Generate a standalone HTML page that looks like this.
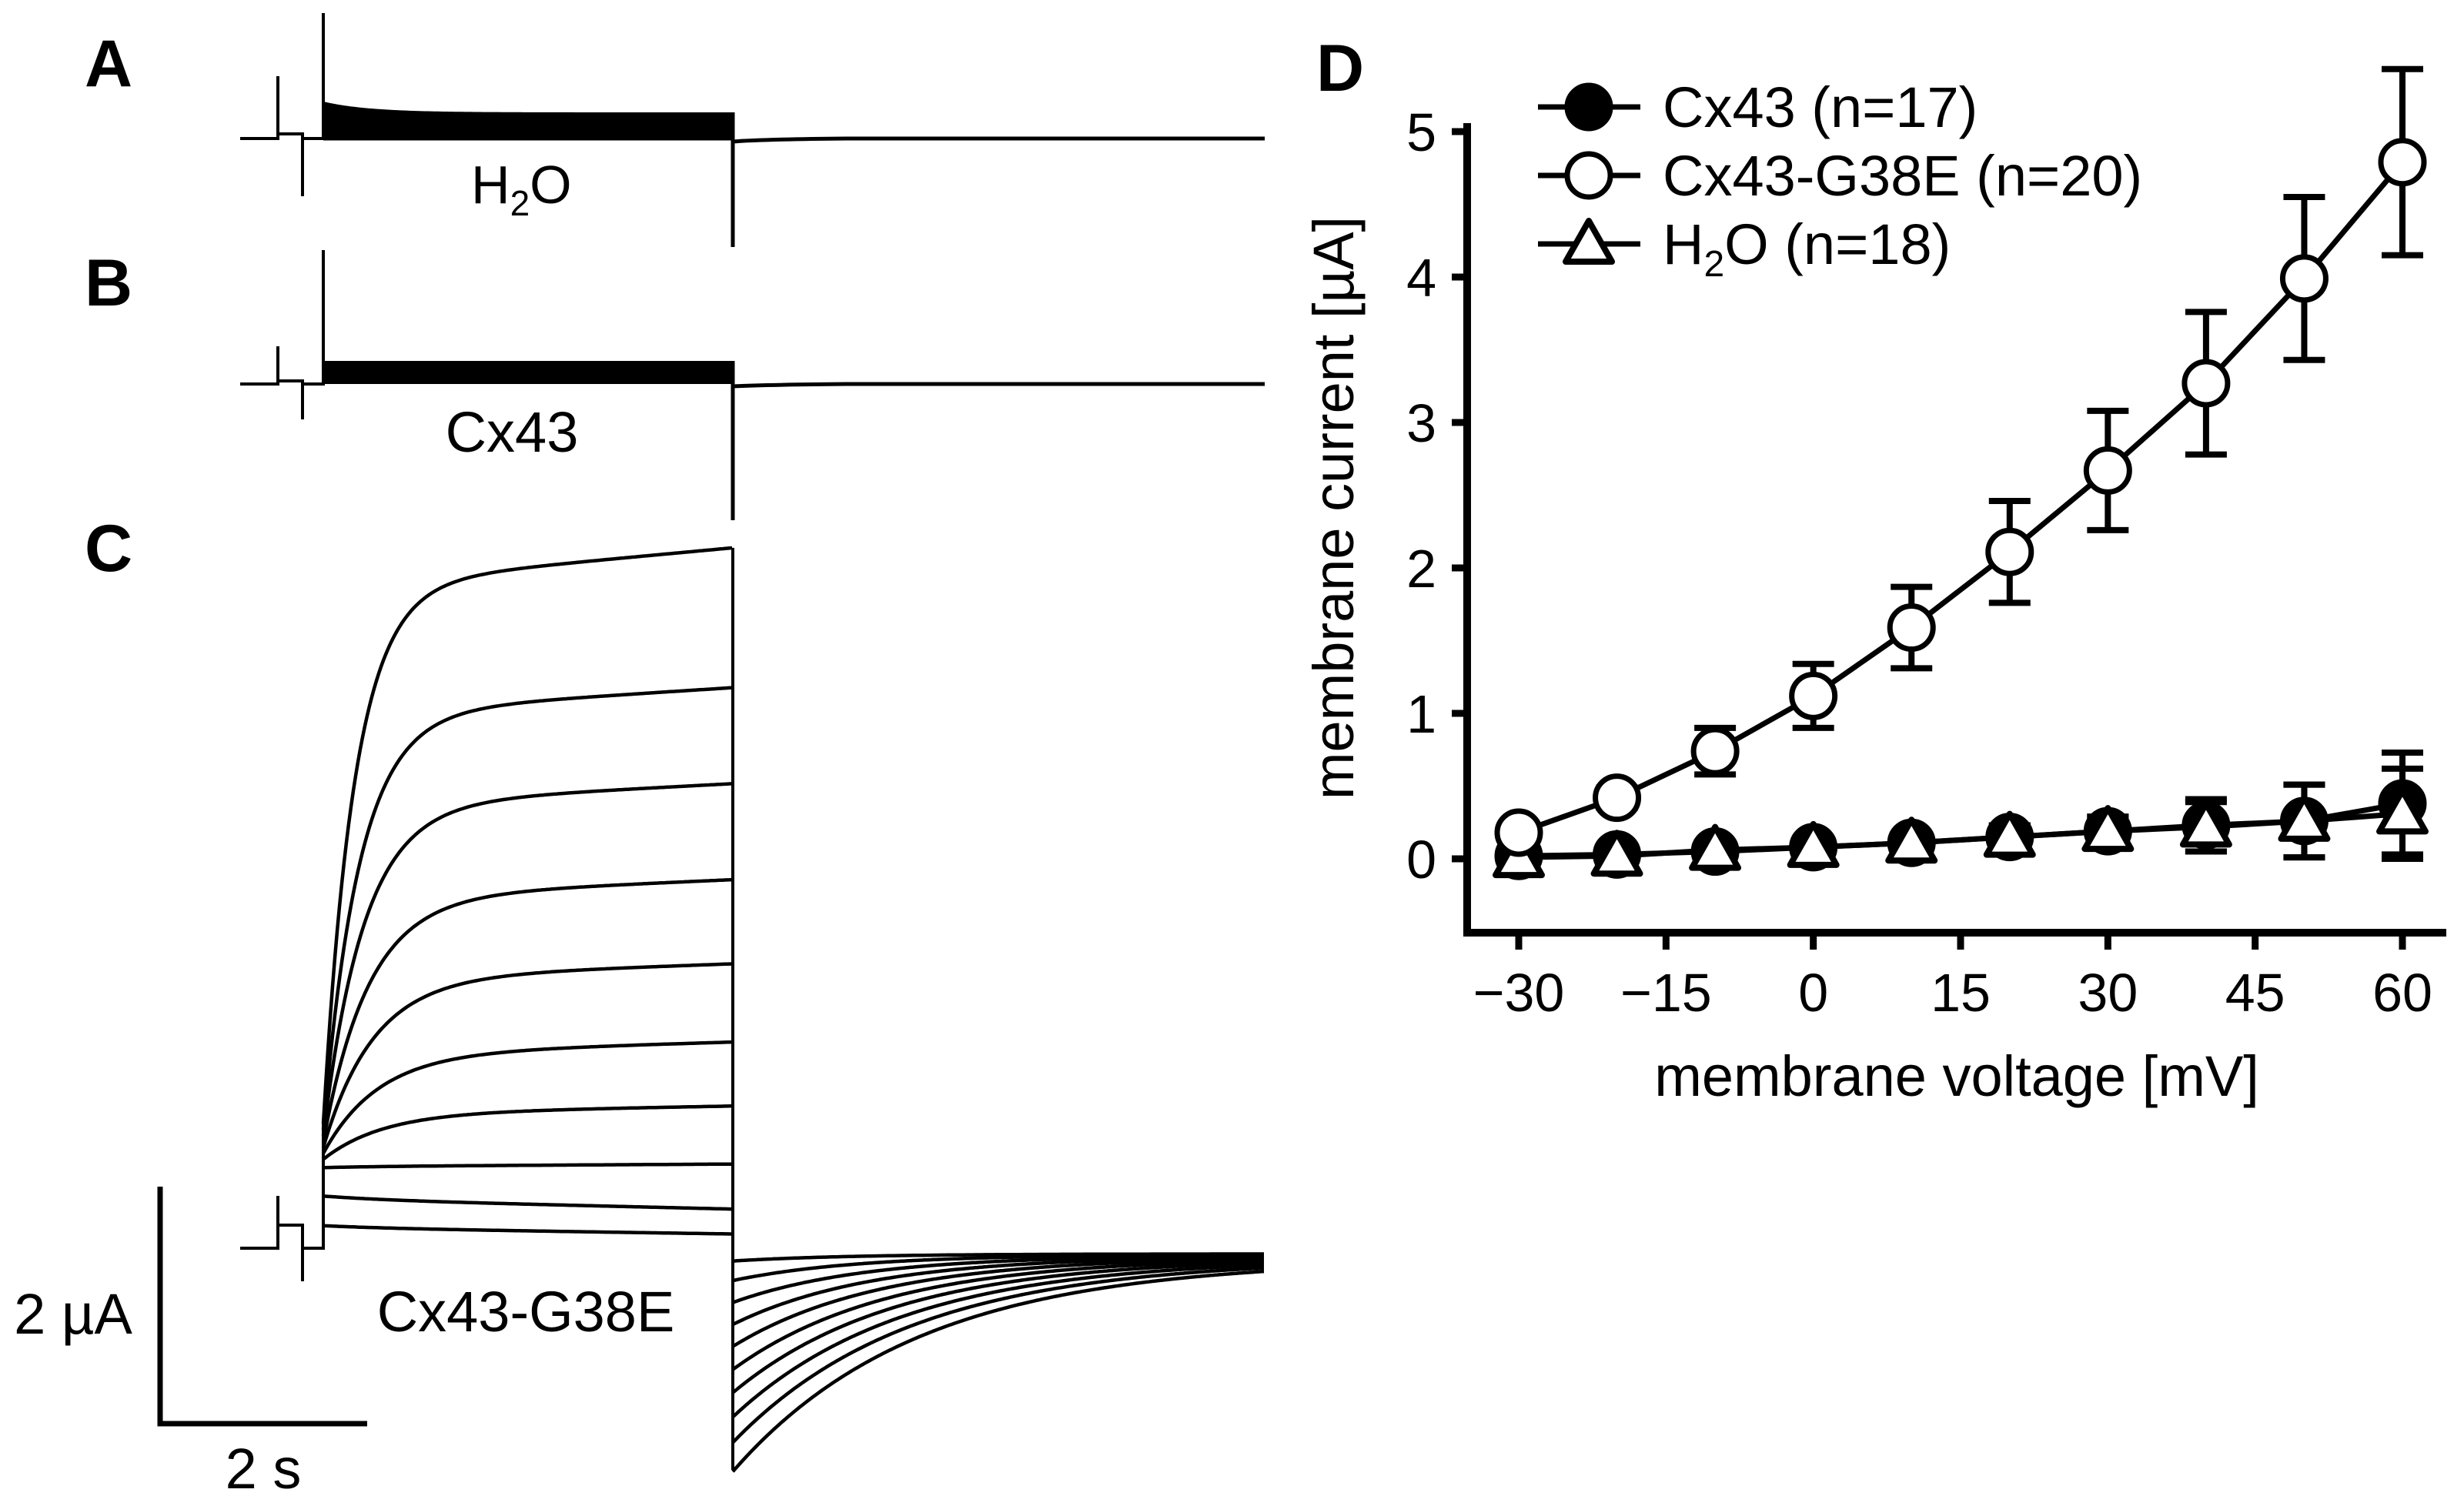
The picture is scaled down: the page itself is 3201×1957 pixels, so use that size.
<!DOCTYPE html>
<html><head><meta charset="utf-8"><style>
html,body{margin:0;padding:0;background:#fff;}
svg{display:block;font-family:"Liberation Sans",sans-serif;}
</style></head><body>
<svg id="fig" width="3201" height="1957" viewBox="0 0 3201 1957" xmlns="http://www.w3.org/2000/svg">
<rect width="3201" height="1957" fill="#fff"/>
<g id="left"></g>
<g id="panelD"></g>
</svg>
<script>
// ---------- Panel D data ----------
const voltages = [-30,-20,-10,0,10,20,30,40,50,60];
const g38eMean = [0.18,0.42,0.74,1.12,1.59,2.11,2.67,3.27,3.99,4.79];
const g38eErr  = [0.04,0.07,0.16,0.22,0.28,0.35,0.41,0.49,0.56,0.64];
const cx43Mean = [0.02,0.03,0.05,0.08,0.11,0.15,0.19,0.23,0.26,0.38];
const cx43Err  = [0.02,0.03,0.04,0.05,0.06,0.08,0.10,0.18,0.25,0.35];
const h2oMean  = [0.01,0.02,0.06,0.08,0.11,0.15,0.19,0.22,0.26,0.31];
const h2oErr   = [0.02,0.03,0.04,0.05,0.06,0.08,0.10,0.17,0.25,0.31];
const xTicks = [-30,-15,0,15,30,45,60];
const xTickLabels = ["\u221230","\u221215","0","15","30","45","60"];
const yTicks = [0,1,2,3,4,5];
// ---------- Panel C data (µA) ----------
const stepEnd   = [0.12,0.33,0.71,1.20,1.74,2.40,3.11,3.92,4.73,5.91];
const stepStart = [0.19,0.44,0.68,0.75,0.80,0.85,0.90,0.95,1.00,1.05];
const stepDrift = [-0.05,-0.08,0.02,0.06,0.10,0.12,0.15,0.18,0.22,0.32];
const tailPeak  = [0.06,0.22,0.40,0.58,0.76,0.95,1.14,1.34,1.55,1.79];

const NS="http://www.w3.org/2000/svg";
function mk(parent,tag,attrs,text){const e=document.createElementNS(NS,tag);for(const k in attrs)e.setAttribute(k,attrs[k]);if(text!==undefined)e.textContent=text;parent.appendChild(e);return e;}

// ---------- Panel D ----------
const D=document.getElementById('panelD');
const X0=1906, X1=3178, Y0=1212;
const xs=v=>1973+(v+30)*(3121-1973)/90;
const ys=v=>1116-v*189;
let ax=mk(D,'path',{d:`M${X0},160 L${X0},${Y0} L${X1},${Y0}`,fill:'none',stroke:'#000','stroke-width':10});


yTicks.forEach(t=>{
  let l=mk(D,'line',{x1:X0-20,x2:X0,y1:ys(t),y2:ys(t),stroke:'#000','stroke-width':9});
  
  
  let tx=mk(D,'text',{x:X0-40,y:ys(t)+25,'text-anchor':'end','font-size':70},String(t));
  
  
});
xTicks.forEach((t,i)=>{
  let l=mk(D,'line',{x1:xs(t),x2:xs(t),y1:Y0,y2:Y0+22,stroke:'#000','stroke-width':9});
  
  
  let tx=mk(D,'text',{x:xs(t),y:1314,'text-anchor':'middle','font-size':70},xTickLabels[i]);
  
  
});
let xt=mk(D,'text',{x:2542,y:1424,'text-anchor':'middle','font-size':74},'membrane voltage [mV]');


let yt=mk(D,'text',{x:0,y:0,'text-anchor':'middle','font-size':74,transform:'translate(1758,660) rotate(-90)'},'membrane current [\u00b5A]');


let dl=mk(D,'text',{x:1710,y:118,'font-size':86,'font-weight':'bold'},'D');



function marker(g,type,cx,cy){
  if(type==='filled') return mk(g,'circle',{cx,cy,r:28,fill:'#000',stroke:'#000','stroke-width':7});
  if(type==='open') return mk(g,'circle',{cx,cy,r:28,fill:'#fff',stroke:'#000','stroke-width':7});
  return mk(g,'path',{d:`M${cx},${cy-30} L${cx+30},${cy+23} L${cx-30},${cy+23} Z`,fill:'#fff',stroke:'#000','stroke-width':8,'stroke-linejoin':'round'});
}
function series(name,mean,err,type){
  const g=mk(D,'g',{});
  
  
  err.forEach((e,i)=>{
    const x=xs(voltages[i]);
    const eb=mk(g,'path',{d:`M${x},${ys(mean[i]+e)} L${x},${ys(mean[i]-e)} M${x-27},${ys(mean[i]+e)} L${x+27},${ys(mean[i]+e)} M${x-27},${ys(mean[i]-e)} L${x+27},${ys(mean[i]-e)}`,stroke:'#000','stroke-width':8,fill:'none'});
    
    
  });
  const ln=mk(g,'polyline',{points:mean.map((m,i)=>xs(voltages[i])+','+ys(m)).join(' '),fill:'none',stroke:'#000','stroke-width':7});
  
  
  mean.forEach((m,i)=>{
    const p=marker(g,type,xs(voltages[i]),ys(m));
    
    
  });
}
series('series-cx43',cx43Mean,cx43Err,'filled');
series('series-h2o',h2oMean,h2oErr,'tri');
series('series-cx43-g38e',g38eMean,g38eErr,'open');

// legend
const legendItems=[['filled','Cx43 (n=17)',139],['open','Cx43-G38E (n=20)',228],['tri','H\u2082O (n=18)',317]];
legendItems.forEach(([t,label,y])=>{
  const g=mk(D,'g',{});
  
  
  mk(g,'line',{x1:1998,x2:2131,y1:y,y2:y,stroke:'#000','stroke-width':7});
  marker(g,t,2064,y);
  if(t==='tri'){
    const tx=mk(g,'text',{x:2160,y:y+26,'font-size':74});
    mk(tx,'tspan',{},'H');
    mk(tx,'tspan',{dy:16,'font-size':48},'2');
    mk(tx,'tspan',{dy:-16},'O (n=18)');
  } else mk(g,'text',{x:2160,y:y+26,'font-size':74},label);
});

// ---------- Left panels ----------
const L=document.getElementById('left');
function addLabel(txt,x,y,name){const t=mk(L,'text',{x,y,'font-size':86,'font-weight':'bold','text-anchor':'middle'},txt);}
addLabel('A',141,112,'panel-label-a');
addLabel('B',141,397,'panel-label-b');
addLabel('C',141,742,'panel-label-c');

function prepulse(g,base,up,step,down,big){
  return mk(g,'path',{d:`M312,${base} L361,${base} L361,${up} L361,${step} L393,${step} L393,${down} L393,${base} L420,${base} L420,${big}`,fill:'none',stroke:'#000','stroke-width':4});
}
// Panel A
(function(){
  const g=mk(L,'g',{});
  
  
  prepulse(g,180,99,174,255,17);
  let d='M420,180 L420,132';
  for(let x=420;x<=952;x+=4){d+=` L${x},${146-14*Math.exp(-(x-420)/60)}`;}
  d+=' L952,180 Z';
  mk(g,'path',{d,fill:'#000'});
  mk(g,'path',{d:'M952,146 L952,321 M952,184 Q990,181 1100,180 L1643,180 M420,180 L952,180',fill:'none',stroke:'#000','stroke-width':5});
  const t=mk(L,'text',{x:612,y:264,'font-size':70});
  mk(t,'tspan',{},'H');mk(t,'tspan',{dy:16,'font-size':46},'2');mk(t,'tspan',{dy:-16},'O');
  
  
})();
// Panel B
(function(){
  const g=mk(L,'g',{});
  
  
  prepulse(g,499,450,495,545,325);
  mk(g,'rect',{x:420,y:469,width:532,height:30,fill:'#000'});
  mk(g,'path',{d:'M952,469 L952,676 M952,502 Q990,500 1100,499 L1643,499',fill:'none',stroke:'#000','stroke-width':5});
  const t=mk(L,'text',{x:665,y:587,'font-size':74,'text-anchor':'middle'},'Cx43');
  
  
})();
// Panel C
(function(){
  const base=1622, s=154, T=532;
  const yC=v=>base-v*s;
  const g=mk(L,'g',{});
  
  
  prepulse(g,base,1554,1592,1665,1592);
  const n=stepEnd.length;
  stepEnd.forEach((e,k)=>{
    const tau=95-6*k;
    const iss=e-stepDrift[k];
    let d='';
    for(let t=0;t<=T;t+=3){
      const v=stepStart[k]+(iss-stepStart[k])*(1-Math.exp(-t/tau))+stepDrift[k]*t/T;
      d+=(t?' L':'M')+(420+t)+','+yC(v).toFixed(1);
    }
    const p=mk(g,'path',{d,fill:'none',stroke:'#000','stroke-width':4.5});
    
    
  });
  mk(g,'line',{x1:420,x2:420,y1:yC(stepStart[n-1]),y2:1592,stroke:'#000','stroke-width':4});
  mk(g,'line',{x1:952,x2:952,y1:yC(stepEnd[n-1]),y2:1910,stroke:'#000','stroke-width':4});
  const tailBase=1633;
  tailPeak.forEach((a,k)=>{
    let d='';
    for(let t=0;t<=691;t+=3){
      const v=tailBase+a*s*Math.exp(-t/(150+k*10))+ (k-4.5)*0.8;
      d+=(t?' L':'M')+(952+t)+','+v.toFixed(1);
    }
    const p=mk(g,'path',{d,fill:'none',stroke:'#000','stroke-width':4.5});
    
    
  });
  const t=mk(L,'text',{x:683,y:1730,'font-size':74,'text-anchor':'middle'},'Cx43-G38E');
  
  
  const sb=mk(L,'path',{d:'M208,1542 L208,1850 L477,1850',fill:'none',stroke:'#000','stroke-width':7});
  
  
  const t1=mk(L,'text',{x:95,y:1733,'font-size':74,'text-anchor':'middle'},'2 \u00b5A');
  
  
  const t2=mk(L,'text',{x:342,y:1934,'font-size':74,'text-anchor':'middle'},'2 s');
  
  
})();
</script>
</body></html>
